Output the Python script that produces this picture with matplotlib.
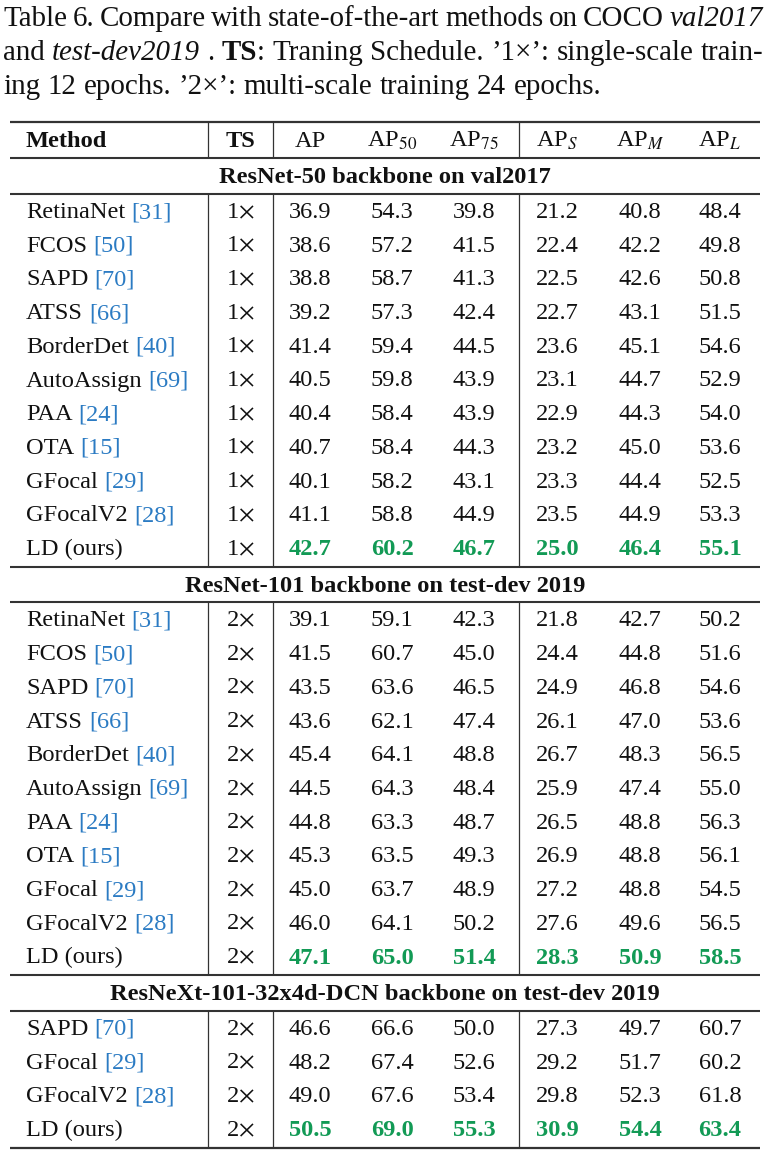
import matplotlib
matplotlib.use('Agg')
import matplotlib.pyplot as plt

plt.rcParams['font.family'] = ['Liberation Serif', 'DejaVu Serif']
plt.rcParams['mathtext.fontset'] = 'stix'

# ---------------- data ----------------
columns = ['AP', r'AP$_{50}$', r'AP$_{75}$', r'AP$_{S}$', r'AP$_{M}$', r'AP$_{L}$']

group_titles = ['ResNet-50 backbone on val2017',
                'ResNet-101 backbone on test-dev 2019',
                'ResNeXt-101-32x4d-DCN backbone on test-dev 2019']

methods_g1 = ['RetinaNet', 'FCOS', 'SAPD', 'ATSS', 'BorderDet', 'AutoAssign',
              'PAA', 'OTA', 'GFocal', 'GFocalV2', 'LD (ours)']
cites_g1 = ['31', '50', '70', '66', '40', '69', '24', '15', '29', '28', '']
ts_g1 = r'1$\times$'
values_g1 = [
    [36.9, 54.3, 39.8, 21.2, 40.8, 48.4],
    [38.6, 57.2, 41.5, 22.4, 42.2, 49.8],
    [38.8, 58.7, 41.3, 22.5, 42.6, 50.8],
    [39.2, 57.3, 42.4, 22.7, 43.1, 51.5],
    [41.4, 59.4, 44.5, 23.6, 45.1, 54.6],
    [40.5, 59.8, 43.9, 23.1, 44.7, 52.9],
    [40.4, 58.4, 43.9, 22.9, 44.3, 54.0],
    [40.7, 58.4, 44.3, 23.2, 45.0, 53.6],
    [40.1, 58.2, 43.1, 23.3, 44.4, 52.5],
    [41.1, 58.8, 44.9, 23.5, 44.9, 53.3],
    [42.7, 60.2, 46.7, 25.0, 46.4, 55.1],
]

methods_g2 = ['RetinaNet', 'FCOS', 'SAPD', 'ATSS', 'BorderDet', 'AutoAssign',
              'PAA', 'OTA', 'GFocal', 'GFocalV2', 'LD (ours)']
cites_g2 = ['31', '50', '70', '66', '40', '69', '24', '15', '29', '28', '']
ts_g2 = r'2$\times$'
values_g2 = [
    [39.1, 59.1, 42.3, 21.8, 42.7, 50.2],
    [41.5, 60.7, 45.0, 24.4, 44.8, 51.6],
    [43.5, 63.6, 46.5, 24.9, 46.8, 54.6],
    [43.6, 62.1, 47.4, 26.1, 47.0, 53.6],
    [45.4, 64.1, 48.8, 26.7, 48.3, 56.5],
    [44.5, 64.3, 48.4, 25.9, 47.4, 55.0],
    [44.8, 63.3, 48.7, 26.5, 48.8, 56.3],
    [45.3, 63.5, 49.3, 26.9, 48.8, 56.1],
    [45.0, 63.7, 48.9, 27.2, 48.8, 54.5],
    [46.0, 64.1, 50.2, 27.6, 49.6, 56.5],
    [47.1, 65.0, 51.4, 28.3, 50.9, 58.5],
]

methods_g3 = ['SAPD', 'GFocal', 'GFocalV2', 'LD (ours)']
cites_g3 = ['70', '29', '28', '']
ts_g3 = r'2$\times$'
values_g3 = [
    [46.6, 66.6, 50.0, 27.3, 49.7, 60.7],
    [48.2, 67.4, 52.6, 29.2, 51.7, 60.2],
    [49.0, 67.6, 53.4, 29.8, 52.3, 61.8],
    [50.5, 69.0, 55.3, 30.9, 54.4, 63.4],
]

groups = [(methods_g1, cites_g1, ts_g1, values_g1),
          (methods_g2, cites_g2, ts_g2, values_g2),
          (methods_g3, cites_g3, ts_g3, values_g3)]

# caption: words made of (text, style) segments; style n / i / b
caption = [
    [[('Table', 'n')], [('6.', 'n')], [('Compare', 'n')], [('with', 'n')],
     [('state-of-the-art', 'n')], [('methods', 'n')], [('on', 'n')],
     [('COCO', 'n')], [('val2017', 'i')]],
    [[('and', 'n')], [('test-dev2019', 'i')], [('.', 'n')], [('TS', 'b'), (':', 'n')],
     [('Traning', 'n')], [('Schedule.', 'n')], [('’1×’:', 'n')], [('single-scale', 'n')],
     [('train-', 'n')]],
    [[('ing', 'n')], [('12', 'n')], [('epochs.', 'n')], [('’2×’:', 'n')],
     [('multi-scale', 'n')], [('training', 'n')], [('24', 'n')], [('epochs.', 'n')]],
]
caption_justify = [True, True, False]

# ---------------- style / layout ----------------
W, H = 768, 1155
FS = 17.6
CAP_FS = 20.9
INK = '#111111'
GREEN = '#129a55'
BLUE = '#2b7bc3'
RULE = '#333333'

fig = plt.figure(figsize=(W / 100, H / 100), dpi=100)
ax = fig.add_axes([0, 0, 1, 1])
ax.set_xlim(0, W)
ax.set_ylim(H, 0)
ax.axis('off')
renderer = fig.canvas.get_renderer()


def style_kw(s):
    if s == 'b':
        return dict(fontweight='bold')
    if s == 'i':
        return dict(fontstyle='italic')
    return {}


def text_width(s, fs=FS, **kw):
    t = ax.text(0, 0, s, fontsize=fs, **kw)
    w = t.get_window_extent(renderer).width
    t.remove()
    return w


SPACE = text_width('x x') - text_width('xx')
CAP_SPACE = text_width('x x', CAP_FS) - text_width('xx', CAP_FS)

# caption
cap_x0, cap_x1 = 3, 763
cap_base = [26, 60, 94]
for words, just, yb in zip(caption, caption_justify, cap_base):
    widths = [sum(text_width(t, CAP_FS, **style_kw(s)) for t, s in w) for w in words]
    gap = CAP_SPACE
    if just:
        gap = (cap_x1 - cap_x0 - sum(widths)) / (len(words) - 1)
    x = cap_x0
    for w, ww in zip(words, widths):
        xx = x
        for t, s in w:
            ax.text(xx, yb, t, fontsize=CAP_FS, color=INK, va='baseline', ha='left', **style_kw(s))
            xx += text_width(t, CAP_FS, **style_kw(s))
        x += ww + gap

# table geometry
TL, TR = 10, 760
VX = [207.5, 273, 518.5]
METHOD_X = 26
TS_X = 240
COL_X = [310, 392, 474, 557, 640, 720]
PITCH = 33.7


def hrule(y, lw=1.5):
    ax.plot([TL, TR], [y, y], color=RULE, lw=lw, solid_capstyle='butt')


def vrules(y0, y1):
    for x in VX:
        ax.plot([x, x], [y0, y1], color=RULE, lw=0.9, solid_capstyle='butt')


top = 122
hrule(top, 1.6)
hdr_base = 147
ax.text(METHOD_X, hdr_base, 'Method', fontsize=FS, fontweight='bold', color=INK, va='baseline')
ax.text(TS_X, hdr_base, 'TS', fontsize=FS, fontweight='bold', color=INK, va='baseline', ha='center')
for cx, c in zip(COL_X, columns):
    ax.text(cx, hdr_base, c, fontsize=FS, color=INK, va='baseline', ha='center')
y = 158
hrule(y)
vrules(top, y)

for gi, (title, (meths, cites, ts, vals)) in enumerate(zip(group_titles, groups)):
    ax.text((TL + TR) / 2, y + 25, title, fontsize=FS, fontweight='bold', color=INK,
            va='baseline', ha='center')
    y_rule = y + 35.5
    hrule(y_rule)
    yb = y_rule + 24.5
    for i, (m, c, row) in enumerate(zip(meths, cites, vals)):
        b = yb + i * PITCH
        ax.text(METHOD_X, b, m, fontsize=FS, color=INK, va='baseline')
        if c:
            wm = text_width(m)
            ax.text(METHOD_X + wm + SPACE, b, '[' + c + ']', fontsize=FS, color=BLUE, va='baseline')
        ax.text(TS_X, b, ts, fontsize=FS, color=INK, va='baseline', ha='center')
        ours = (c == '')
        for cx, v in zip(COL_X, row):
            ax.text(cx, b, f'{v:.1f}', fontsize=FS, va='baseline', ha='center',
                    color=GREEN if ours else INK, fontweight='bold' if ours else 'normal')
    y_end = yb + (len(meths) - 1) * PITCH + 11.5
    last = gi == len(groups) - 1
    hrule(y_end, 1.6 if last else 1.5)
    vrules(y_rule, y_end)
    y = y_end

fig.savefig('out.png', dpi=100)
